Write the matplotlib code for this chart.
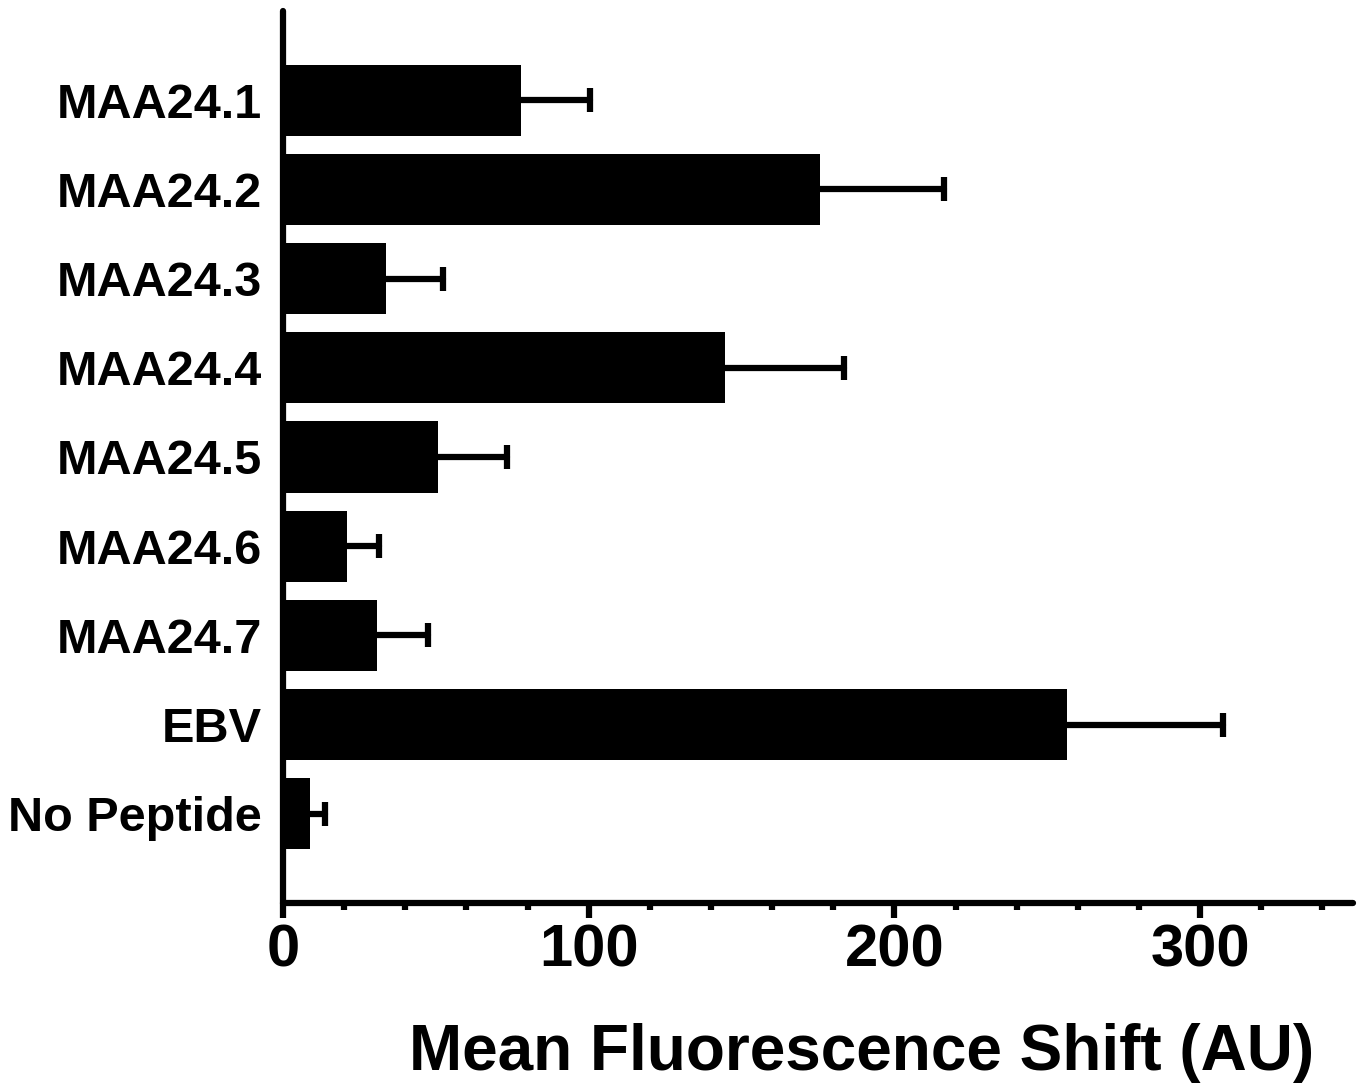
import matplotlib
matplotlib.use("Agg")
import matplotlib.pyplot as plt
from matplotlib.ticker import MultipleLocator
import numpy as np

categories = ["MAA24.1", "MAA24.2", "MAA24.3", "MAA24.4", "MAA24.5",
              "MAA24.6", "MAA24.7", "EBV", "No Peptide"]
means = [77.9, 175.7, 33.7, 144.6, 50.7, 20.9, 30.7, 256.5, 8.8]
errors = [22.6, 40.6, 18.6, 38.9, 22.6, 10.5, 16.7, 51.0, 4.9]
xticks = [0, 100, 200, 300]
xlabel = "Mean Fluorescence Shift (AU)"

plt.rcParams['font.family'] = ['Liberation Sans', 'DejaVu Sans']
plt.rcParams['font.weight'] = 'bold'

W, H = 1369, 1087
fig = plt.figure(figsize=(W / 100, H / 100), dpi=100)
left, right, top, bottom = 283, 1353, 11, 903
ax = fig.add_axes([left / W, 1 - bottom / H, (right - left) / W, (bottom - top) / H])

y = np.arange(len(categories))
lw = 4.5
ax.barh(y, means, height=0.8, color='black', edgecolor='none', zorder=2)
eb = ax.errorbar(means, y, xerr=[np.zeros(len(errors)), errors], fmt='none',
                 ecolor='black', elinewidth=lw, capsize=8.5, capthick=lw, zorder=1)
caps = eb[1]
if len(caps) == 2:
    caps[0].set_visible(False)
for cap in caps:
    cap.set_solid_capstyle('round')
for lc in eb[2]:
    lc.set_capstyle('round')

ax.set_xlim(0, 350)
ax.set_ylim(9, -1)
ax.set_yticks(y)
ax.set_yticklabels(categories, fontsize=35, fontweight='bold')
ax.tick_params(axis='y', length=0, pad=15)
ax.set_xticks(xticks)
ax.set_xticklabels([str(t) for t in xticks], fontsize=43, fontweight='bold')
ax.xaxis.set_minor_locator(MultipleLocator(20))
ax.tick_params(axis='x', which='major', length=11, width=lw, pad=4)
ax.tick_params(axis='x', which='minor', length=5, width=lw)

for s in ['top', 'right']:
    ax.spines[s].set_visible(False)
for s in ['left', 'bottom']:
    ax.spines[s].set_linewidth(lw)
    ax.spines[s].set_capstyle('round')

fig.text(862 / W, 1 - 1070 / H, xlabel, fontsize=46, fontweight='bold',
         ha='center', va='baseline')

fig.savefig("out.png", dpi=100)
